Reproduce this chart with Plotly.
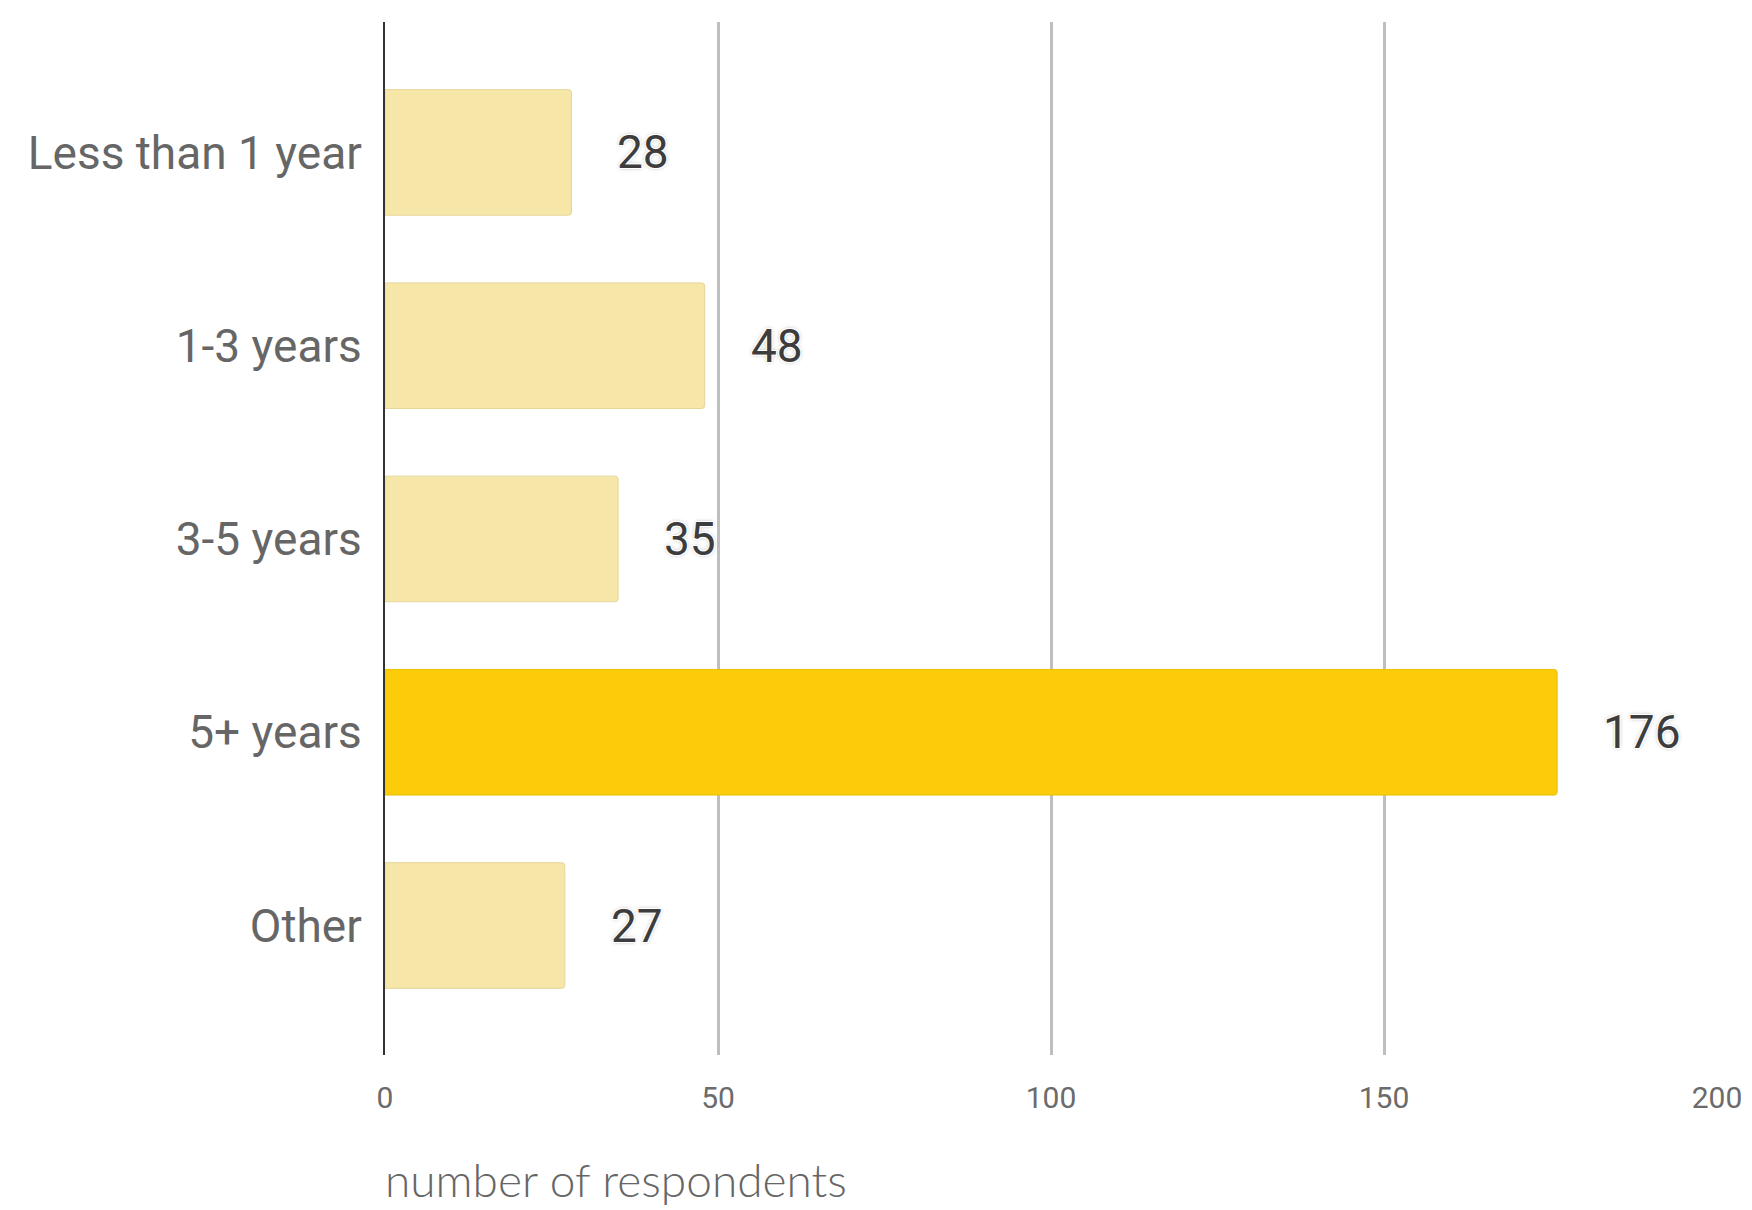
import plotly.graph_objects as go

# Survey: how long respondents have been in the field
categories = ["Less than 1 year", "1-3 years", "3-5 years", "5+ years", "Other"]
respondents = [28, 48, 35, 176, 27]
highlight = "5+ years"

x_ticks = [0, 50, 100, 150, 200]
x_title = "number of respondents"

PALE = "#F6E6A7"
BRIGHT = "#FCCC0A"

colors = [BRIGHT if c == highlight else PALE for c in categories]
outlines = ["#E8C200" if c == highlight else "#E6D59A" for c in categories]

fig = go.Figure()
fig.add_trace(go.Bar(
    x=respondents,
    y=categories,
    orientation="h",
    width=0.65,
    marker=dict(color=colors, line=dict(color=outlines, width=1), cornerradius=3),
    hoverinfo="x+y",
))

# value labels to the right of each bar
halo = ("1px 1px 0 #fff, -1px -1px 0 #fff, 1px -1px 0 #fff, -1px 1px 0 #fff, "
        "0 0 4px rgba(0,0,0,0.35)")
for cat, val in zip(categories, respondents):
    fig.add_annotation(
        x=val, y=cat, xref="x", yref="y",
        text=str(val), showarrow=False,
        xanchor="left", yanchor="middle", xshift=44,
        font=dict(family="Roboto", size=46, color="#3d3d3d", shadow=halo),
    )

# axis title, left-aligned beneath the tick labels
fig.add_annotation(
    x=0, y=0, xref="paper", yref="paper",
    text=x_title, showarrow=False,
    xanchor="left", yanchor="middle", yshift=-124, xshift=-2,
    font=dict(family="Lato", size=46, color="#666666", weight=300),
)

fig.update_xaxes(
    range=[0, 200],
    tickvals=x_ticks,
    ticktext=[str(t) for t in x_ticks],
    showgrid=True, gridcolor="#BEBEBE", gridwidth=2.5,
    zeroline=False, showline=False,
    ticks="", ticklabelstandoff=22,
    tickfont=dict(family="Roboto", size=30, color="#6b6b6b"),
    fixedrange=True,
)
fig.update_yaxes(
    categoryorder="array", categoryarray=categories,
    range=[4.67, -0.675],
    showgrid=False, zeroline=False,
    showline=True, linecolor="#333333", linewidth=2,
    ticks="", ticklabelstandoff=12,
    tickfont=dict(family="Roboto", size=46, color="#666666"),
    fixedrange=True,
)

fig.update_layout(
    width=1752, height=1210,
    margin=dict(l=385, r=35, t=22, b=155, autoexpand=False),
    paper_bgcolor="white", plot_bgcolor="white",
    showlegend=False,
    bargap=0.35,
)

fig.write_html("out.html", config={"displayModeBar": False})
